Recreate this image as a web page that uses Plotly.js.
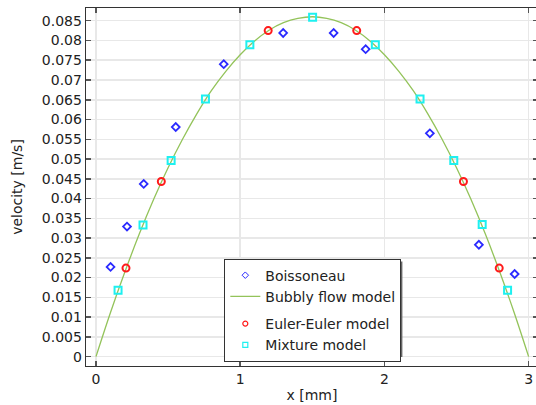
<!DOCTYPE html>
<html>
<head>
<meta charset="utf-8">
<script src="https://cdn.plot.ly/plotly-3.0.1.min.js"></script>
<style>html,body{margin:0;padding:0;overflow:hidden;background:#fff;}#chart{width:545px;height:405px;}</style>
</head>
<body>
<div id="chart"></div>
<script>
// Boissoneau (experiment)
const boisX = [0.101, 0.215, 0.331, 0.553, 0.886, 1.298, 1.648, 1.870, 2.315, 2.655, 2.903];
const boisY = [0.0227, 0.0329, 0.0437, 0.0581, 0.0740, 0.0819, 0.0819, 0.0778, 0.0565, 0.0283, 0.0209];
// Bubbly flow model (curve)
const bubX = [0, 0.1, 0.2, 0.3, 0.4, 0.5, 0.6, 0.7, 0.8, 0.9, 1.0, 1.1, 1.2, 1.3, 1.4, 1.5,
              1.6, 1.7, 1.8, 1.9, 2.0, 2.1, 2.2, 2.3, 2.4, 2.5, 2.6, 2.7, 2.8, 2.9, 3.0];
const bubY = [0, 0.0111, 0.0214, 0.0310, 0.0398, 0.0478, 0.0550, 0.0615, 0.0673, 0.0722, 0.0764, 0.0799, 0.0826, 0.0845, 0.0856, 0.0860,
              0.0856, 0.0845, 0.0826, 0.0799, 0.0764, 0.0722, 0.0673, 0.0615, 0.0550, 0.0478, 0.0398, 0.0310, 0.0214, 0.0111, 0];
// Euler-Euler model
const eeX = [0.208, 0.453, 1.194, 1.808, 2.548, 2.796];
const eeY = [0.0224, 0.0443, 0.0825, 0.0825, 0.0443, 0.0224];
// Mixture model
const mixX = [0.153, 0.326, 0.521, 0.759, 1.067, 1.502, 1.937, 2.247, 2.481, 2.678, 2.854];
const mixY = [0.0168, 0.0333, 0.0496, 0.0652, 0.0789, 0.0859, 0.0789, 0.0652, 0.0496, 0.0334, 0.0168];

const yTicks = [0, 0.005, 0.01, 0.015, 0.02, 0.025, 0.03, 0.035, 0.04, 0.045, 0.05, 0.055, 0.06, 0.065, 0.07, 0.075, 0.08, 0.085];
const yTickText = ["0", "0.005", "0.01", "0.015", "0.02", "0.025", "0.03", "0.035", "0.04", "0.045", "0.05", "0.055", "0.06", "0.065", "0.07", "0.075", "0.08", "0.085"];
const xTicks = [0, 1, 2, 3];
const xTickText = ["0", "1", "2", "3"];
const seriesNames = ["Boissoneau", "Bubbly flow model", "Euler-Euler model", "Mixture model"];

const font = {family: "DejaVu Sans", size: 14, color: "#222"};
const blue = "#2a2aff", red = "#ff1a1a", cyan = "#1ef0f0", green = "#93c35a";

const traces = [
  {x: boisX, y: boisY, name: seriesNames[0], type: "scatter", mode: "markers", showlegend: false,
   marker: {symbol: "diamond-open", size: 6, color: blue, line: {width: 1.8, color: blue}}},
  {x: bubX, y: bubY, name: seriesNames[1], type: "scatter", mode: "lines",
   legendgroup: "g1", legendrank: 2,
   line: {color: green, width: 1.3, shape: "spline"}},
  {x: eeX, y: eeY, name: seriesNames[2], type: "scatter", mode: "markers", showlegend: false,
   marker: {symbol: "circle-open", size: 7, color: red, line: {width: 2, color: red}}},
  {x: mixX, y: mixY, name: seriesNames[3], type: "scatter", mode: "markers", showlegend: false,
   marker: {symbol: "square-open", size: 7, color: cyan, line: {width: 2, color: cyan}}},
  // legend-only entries with small symbols
  {x: [null], y: [null], name: seriesNames[0], type: "scatter", mode: "markers",
   legendgroup: "g1", legendrank: 1,
   marker: {symbol: "diamond-open", size: 5, color: blue, line: {width: 1, color: blue}}},
  {x: [null], y: [null], name: seriesNames[2], type: "scatter", mode: "markers",
   legendgroup: "g2", legendrank: 3,
   marker: {symbol: "circle-open", size: 5, color: red, line: {width: 1.2, color: red}}},
  {x: [null], y: [null], name: seriesNames[3], type: "scatter", mode: "markers",
   legendgroup: "g2", legendrank: 4,
   marker: {symbol: "square-open", size: 5, color: cyan, line: {width: 1.2, color: cyan}}}
];

const layout = {
  width: 545, height: 405,
  margin: {l: 86, r: 7, t: 8, b: 39},
  paper_bgcolor: "#fff", plot_bgcolor: "#fff",
  font: font,
  showlegend: true,
  legend: {
    x: 0.306, y: 0.300, xanchor: "left", yanchor: "top",
    bgcolor: "#fff", bordercolor: "#333", borderwidth: 1,
    traceorder: "grouped", tracegroupgap: 6,
    font: font
  },
  xaxis: {
    range: [-0.0693, 3.065],
    tickvals: xTicks, ticktext: xTickText,
    ticks: "inside", ticklen: 5, tickcolor: "#555", tickwidth: 1.5,
    showgrid: true, gridcolor: "#e8e8e8", gridwidth: 1.5,
    zeroline: false,
    showline: true, linecolor: "#333", linewidth: 1.3, mirror: "ticks",
    title: {text: "x [mm]", font: font, standoff: 4},
    tickfont: font
  },
  yaxis: {
    range: [-0.00238, 0.08822],
    tickvals: yTicks, ticktext: yTickText,
    ticks: "inside", ticklen: 5, tickcolor: "#555", tickwidth: 1.5,
    showgrid: true, gridcolor: "#e8e8e8", gridwidth: 1.5,
    zeroline: false,
    showline: true, linecolor: "#333", linewidth: 1.3, mirror: "ticks",
    title: {text: "velocity [m/s]", font: font, standoff: 16},
    tickfont: font
  },
  shapes: [
    {type: "rect", xref: "paper", yref: "paper", layer: "above",
     x0: 0.313, x1: 0.7, y0: 0.025, y1: 0.292,
     fillcolor: "#666", line: {width: 0}}
  ]
};

Plotly.newPlot("chart", traces, layout, {displayModeBar: false, staticPlot: true});
</script>
</body>
</html>
